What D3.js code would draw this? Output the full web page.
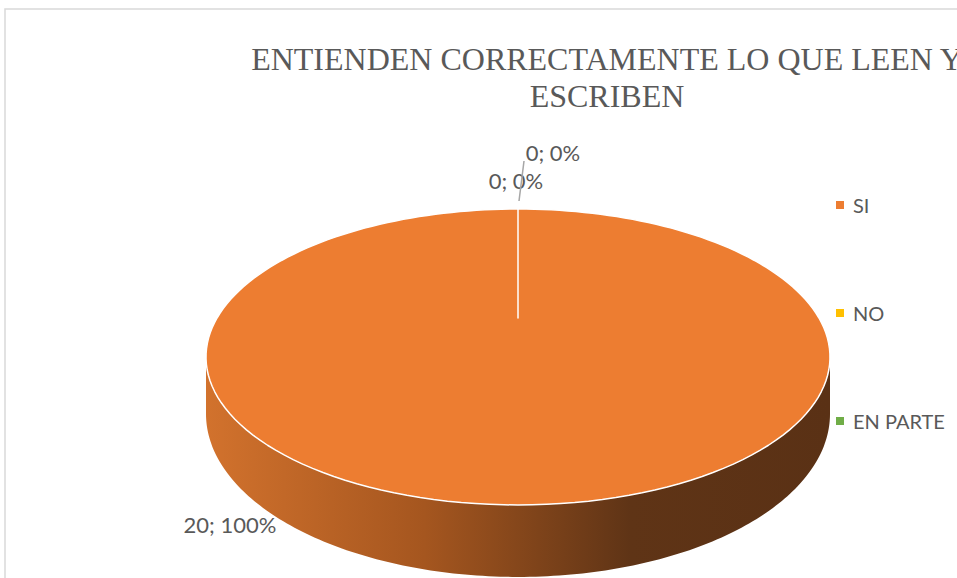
<!DOCTYPE html>
<html lang="es">
<head>
<meta charset="utf-8">
<script src="https://cdn.jsdelivr.net/npm/d3@7"></script>
<style>
  body { margin: 0; background: #fff; }
  svg { display: block; }
</style>
</head>
<body>
<svg width="957" height="578"></svg>
<script>
// datos
var categories = ["SI", "NO", "EN PARTE"];
var values = [20, 0, 0];
var colors = ["#ED7D31", "#FFC000", "#70AD47"];
var titleLines = ["ENTIENDEN CORRECTAMENTE LO QUE LEEN Y", "ESCRIBEN"];

var svg = d3.select("svg");

// marco del grafico
svg.append("rect")
    .attr("x", 5).attr("y", 9)
    .attr("width", 1000).attr("height", 600)
    .attr("fill", "#fff")
    .attr("stroke", "#d9d9d9").attr("stroke-width", 1.5);

// titulo
svg.append("g").selectAll("text")
    .data(titleLines)
    .enter().append("text")
    .attr("x", 607)
    .attr("y", (d, i) => 70 + i * 37)
    .attr("text-anchor", "middle")
    .attr("font-family", "Liberation Serif, Times New Roman, serif")
    .attr("font-size", 32)
    .attr("fill", "#595959")
    .text(d => d);

// proyeccion en perspectiva del disco
var cx = 518, y0 = 318, D = 3.795, B = 137.7, H = 53;
var f = z => D / (D - z);
var zs = 1 / D;                                   // silueta mas ancha
var R = 312 / (Math.sqrt(1 - zs * zs) * f(zs));

function proj(a, r) {
  r = r == null ? 1 : r;
  var x = r * Math.sin(a), z = -r * Math.cos(a);
  return [cx + R * x * f(z), y0 + B * z * f(z)];
}
function projBottom(a) {
  var p = proj(a), z = -Math.cos(a);
  return [p[0], p[1] + H * f(z)];
}

var pie = d3.pie().sort(null).value(d => d)
    .startAngle(0).endAngle(2 * Math.PI);
var arcs = pie(values);

var line = d3.line();
var steps = 180;

// gradiente lateral
var defs = svg.append("defs");
var grad = defs.append("linearGradient")
    .attr("id", "side").attr("gradientUnits", "userSpaceOnUse")
    .attr("x1", cx - 312).attr("x2", cx + 312).attr("y1", 0).attr("y2", 0);
grad.append("stop").attr("offset", "0%").attr("stop-color", "#d2722d");
grad.append("stop").attr("offset", "35%").attr("stop-color", "#a5561f");
grad.append("stop").attr("offset", "68%").attr("stop-color", "#5f3416");
grad.append("stop").attr("offset", "100%").attr("stop-color", "#5a3115");

// cara lateral (frente visible)
var aR = Math.acos(-zs), aL = 2 * Math.PI - aR;
arcs.forEach(function(d) {
  var a0 = Math.max(d.startAngle, aR), a1 = Math.min(d.endAngle, aL);
  if (a1 <= a0) return;
  var top = d3.range(steps + 1).map(i => proj(a0 + (a1 - a0) * i / steps));
  var bot = d3.range(steps + 1).map(i => projBottom(a1 - (a1 - a0) * i / steps));
  svg.append("path")
      .attr("d", line(top.concat(bot)) + "Z")
      .attr("fill", d.index === 0 ? "url(#side)" : d3.color(colors[d.index]).darker(1));
});

// cara superior
arcs.forEach(function(d) {
  if (d.endAngle - d.startAngle <= 0) return;
  var pts = [[cx, y0]].concat(d3.range(steps + 1).map(i =>
      proj(d.startAngle + (d.endAngle - d.startAngle) * i / steps)));
  svg.append("path")
      .attr("d", line(pts) + "Z")
      .attr("fill", colors[d.index])
      .attr("stroke", "#fff").attr("stroke-width", 1.5)
      .attr("stroke-linejoin", "round");
});

// etiquetas de datos
var total = d3.sum(values);
var lblFont = "Lato, Liberation Sans, sans-serif";
var zeroCount = 0;
arcs.forEach(function(d) {
  var txt = d.value + "; " + Math.round(d.value / total * 100) + "%";
  if (d.value > 0) {
    var p = projBottom(3.95);
    svg.append("text")
        .attr("x", p[0] - 22).attr("y", p[1] + 34)
        .attr("text-anchor", "middle")
        .attr("font-family", lblFont).attr("font-size", 22)
        .attr("fill", "#595959").text(txt);
  } else {
    var q = proj(d.startAngle), k = zeroCount++;
    svg.append("text")
        .attr("x", q[0] - 2 + k * 37).attr("y", q[1] - 20 - k * 28)
        .attr("text-anchor", "middle")
        .attr("font-family", lblFont).attr("font-size", 22)
        .attr("fill", "#595959").text(txt);
    if (k === 1) {
      svg.append("line")
          .attr("x1", q[0] + 1).attr("y1", q[1] - 8)
          .attr("x2", q[0] + 6).attr("y2", q[1] - 48)
          .attr("stroke", "#a6a6a6").attr("stroke-width", 1.5);
    }
  }
});

// leyenda
var legend = svg.append("g").selectAll("g")
    .data(categories)
    .enter().append("g")
    .attr("transform", (d, i) => "translate(836," + (205 + i * 108) + ")");
legend.append("rect")
    .attr("x", 0).attr("y", -4).attr("width", 8).attr("height", 8)
    .attr("fill", (d, i) => colors[i]);
legend.append("text")
    .attr("x", 17).attr("y", 8)
    .attr("font-family", lblFont).attr("font-size", 20)
    .attr("fill", "#595959")
    .text(d => d);
</script>
</body>
</html>
